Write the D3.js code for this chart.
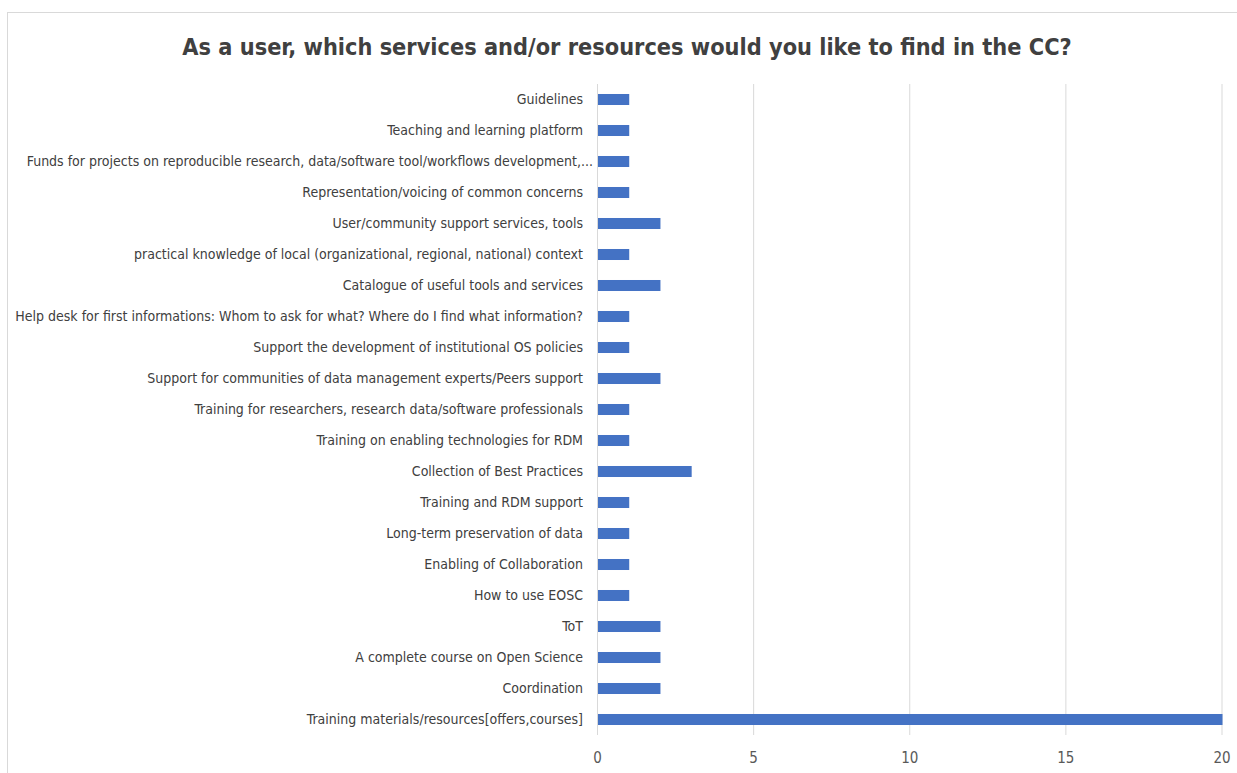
<!DOCTYPE html>
<html>
<head>
<meta charset="utf-8">
<script src="https://cdn.jsdelivr.net/npm/d3@7"></script>
<style>
  html, body { margin: 0; padding: 0; background: #fff; }
  svg { display: block; }
  .lbl { font-family: "Liberation Sans Narrow", "DejaVu Sans Condensed", "Roboto", sans-serif; }
</style>
</head>
<body>
<svg id="chart" width="1237" height="773"></svg>
<script>
const categories = [
  "Guidelines",
  "Teaching and learning platform",
  "Funds for projects on reproducible research, data/software tool/workflows development,...",
  "Representation/voicing of common concerns",
  "User/community support services, tools",
  "practical knowledge of local (organizational, regional, national) context",
  "Catalogue of useful tools and services",
  "Help desk for first informations: Whom to ask for what? Where do I find what information?",
  "Support the development of institutional OS policies",
  "Support for communities of data management experts/Peers support",
  "Training for researchers, research data/software professionals",
  "Training on enabling technologies for RDM",
  "Collection of Best Practices",
  "Training and RDM support",
  "Long-term preservation of data",
  "Enabling of Collaboration",
  "How to use EOSC",
  "ToT",
  "A complete course on Open Science",
  "Coordination",
  "Training materials/resources[offers,courses]"
];
const counts = [1, 1, 1, 1, 2, 1, 2, 1, 1, 2, 1, 1, 3, 1, 1, 1, 1, 2, 2, 2, 20];
const xTicks = [0, 5, 10, 15, 20];
const title = "As a user, which services and/or resources would you like to find in the CC?";

const svg = d3.select("#chart");

// chart frame
svg.append("rect")
  .attr("x", 7.5).attr("y", 12.5)
  .attr("width", 1240).attr("height", 780)
  .attr("fill", "#fff").attr("stroke", "#d9d9d9").attr("stroke-width", 1);

const plot = { left: 597.5, right: 1222, top: 84, bottom: 735 };

const x = d3.scaleLinear().domain([0, 20]).range([plot.left, plot.right]);
const y = d3.scaleBand().domain(categories).range([plot.top, plot.bottom]).paddingInner(0.645).paddingOuter(0.3225);

// vertical gridlines
svg.append("g").selectAll("line")
  .data(xTicks.filter(d => d > 0))
  .join("line")
  .attr("x1", d => x(d)).attr("x2", d => x(d))
  .attr("y1", plot.top).attr("y2", plot.bottom)
  .attr("stroke", "#d9d9d9").attr("stroke-width", 1);

// category axis line
svg.append("line")
  .attr("x1", x(0)).attr("x2", x(0))
  .attr("y1", plot.top).attr("y2", plot.bottom)
  .attr("stroke", "#d9d9d9").attr("stroke-width", 1);

// bars
svg.append("g").selectAll("rect")
  .data(categories.map((c, i) => ({ c, v: counts[i] })))
  .join("rect")
  .attr("x", x(0) + 0.5)
  .attr("y", d => y(d.c))
  .attr("width", d => x(d.v) - x(0))
  .attr("height", y.bandwidth())
  .attr("fill", "#4472c4");

// category labels
svg.append("g").selectAll("text")
  .data(categories)
  .join("text")
  .attr("class", "lbl")
  .attr("x", (d, i) => i === 2 ? 593 : 583)
  .attr("y", d => y(d) + y.bandwidth() / 2)
  .attr("dy", "0.35em")
  .attr("text-anchor", "end")
  .attr("font-size", 14)
  .attr("fill", "#404040")
  .text(d => d);

// value axis tick labels
svg.append("g").selectAll("text")
  .data(xTicks)
  .join("text")
  .attr("class", "lbl")
  .attr("x", d => x(d))
  .attr("y", 758)
  .attr("dy", "0.35em")
  .attr("text-anchor", "middle")
  .attr("font-size", 15)
  .attr("fill", "#595959")
  .text(d => d);

// title
svg.append("text")
  .attr("class", "lbl")
  .attr("x", 627)
  .attr("y", 47)
  .attr("dy", "0.35em")
  .attr("text-anchor", "middle")
  .attr("font-size", 23.3)
  .attr("font-weight", "bold")
  .attr("fill", "#404040")
  .text(title);
</script>
</body>
</html>
